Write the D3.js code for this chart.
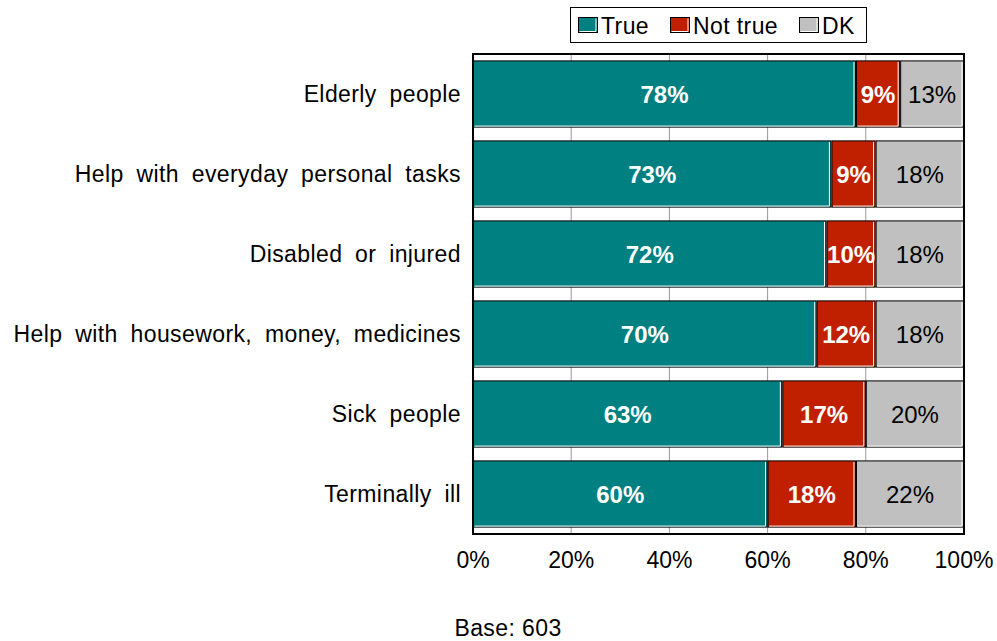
<!DOCTYPE html>
<html><head><meta charset="utf-8">
<script src="https://cdn.jsdelivr.net/npm/d3@7"></script>
<style>body{margin:0;background:#fff}svg{display:block}text{font-family:"Liberation Sans",Arial,sans-serif}</style>
</head><body><svg id="c" width="997" height="641"></svg>
<script>
const categories = ["Elderly people","Help with everyday personal tasks","Disabled or injured","Help with housework, money, medicines","Sick people","Terminally ill"];
const seriesNames = ["True","Not true","DK"];
const trueVals = [78,73,72,70,63,60];
const notTrueVals = [9,9,10,12,17,18];
const dkVals = [13,18,18,18,20,22];
const ticks = [0,20,40,60,80,100];
const colors = ["#008080","#C02000","#C0C0C0"];
const baseNote = "Base: 603";

const svg = d3.select("#c");
const L=473, R=964, T=54, B=534;
const x = d3.scaleLinear().domain([0,100]).range([L,R]);
const y = d3.scaleBand().domain(categories).range([T,B]).paddingInner(0.16).paddingOuter(0.08);

// gridlines
svg.append("g").selectAll("line").data(ticks.slice(1,-1)).join("line")
  .attr("x1",d=>x(d)).attr("x2",d=>x(d)).attr("y1",T).attr("y2",B)
  .attr("stroke","#999").attr("stroke-width",1);

const rows = categories.map((c,i)=>{
  const vals=[trueVals[i],notTrueVals[i],dkVals[i]];
  let acc=0;
  return vals.map((v,k)=>{const s={cat:c,k,v,x0:acc,x1:acc+v};acc+=v;return s;});
}).flat();

const g = svg.append("g");
rows.forEach(s=>{
  const x0=x(s.x0), x1=x(s.x1), y0=y(s.cat), h=y.bandwidth();
  g.append("rect").attr("x",x0+0.5).attr("y",y0+0.5).attr("width",x1-x0-1).attr("height",h-1)
    .attr("fill",colors[s.k]).attr("stroke","#000").attr("stroke-width",1);
  g.append("path").attr("d",`M${x1-2},${y0+1.5} V${y0+h-1.5} H${x0+1.5}`)
    .attr("fill","none").attr("stroke","#fff").attr("stroke-width",1);
  g.append("text").attr("x",(x0+x1)/2).attr("y",y0+h/2+8.5)
    .attr("text-anchor","middle").attr("font-size",24)
    .attr("font-weight",s.k<2?"bold":"normal")
    .attr("fill",s.k<2?"#fff":"#000").text(s.v+"%");
});

// plot border
svg.append("rect").attr("x",L).attr("y",T).attr("width",R-L).attr("height",B-T)
  .attr("fill","none").attr("stroke","#000").attr("stroke-width",2);

// category axis labels
svg.append("g").selectAll("text").data(categories).join("text")
  .attr("x",L-12).attr("y",d=>y(d)+y.bandwidth()/2+8).attr("text-anchor","end")
  .attr("font-size",23).attr("word-spacing",6).attr("letter-spacing",0.4)
  .attr("fill","#000").text(d=>d);

// x tick labels
svg.append("g").selectAll("text").data(ticks).join("text")
  .attr("x",d=>x(d)).attr("y",568).attr("text-anchor","middle")
  .attr("font-size",23).attr("fill","#000").text(d=>d+"%");

// base note
svg.append("text").attr("x",508).attr("y",636).attr("text-anchor","middle")
  .attr("font-size",23).attr("letter-spacing",0.4).attr("fill","#000").text(baseNote);

// legend
const lg = svg.append("g");
lg.append("rect").attr("x",570.5).attr("y",7.5).attr("width",296).attr("height",35)
  .attr("fill","#fff").attr("stroke","#000").attr("stroke-width",1);
const lx=[578,670,799];
seriesNames.forEach((n,i)=>{
  lg.append("rect").attr("x",lx[i]+0.5).attr("y",17.5).attr("width",19).attr("height",15)
    .attr("fill",colors[i]).attr("stroke","#000").attr("stroke-width",1);
  lg.append("path").attr("d",`M${lx[i]+18},${18.5} V${31.5} H${lx[i]+1.5}`).attr("fill","none").attr("stroke","#fff");
  lg.append("text").attr("x",lx[i]+23).attr("y",34).attr("font-size",23).attr("letter-spacing",0.4).attr("fill","#000").text(n);
});
</script></body></html>
